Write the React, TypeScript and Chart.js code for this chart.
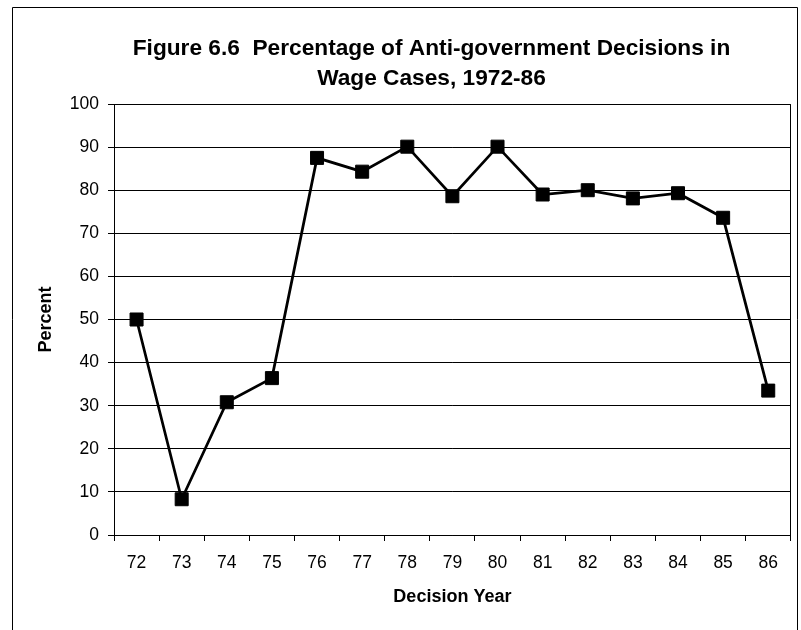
import React, { useEffect, useRef } from "react";
import { Chart, registerables } from "chart.js";

Chart.register(...registerables);

const categories: string[] = ["72", "73", "74", "75", "76", "77", "78", "79", "80", "81", "82", "83", "84", "85", "86"];
const percentValues: number[] = [50, 8.3, 30.8, 36.4, 87.5, 84.3, 90.1, 78.6, 90.1, 79.0, 80.0, 78.1, 79.3, 73.6, 33.5];
const titleLines: string[] = ["Figure 6.6  Percentage of Anti-government Decisions in", "Wage Cases, 1972-86"];
const xAxisTitle = "Decision Year";
const yAxisTitle = "Percent";
const yMin = 0;
const yMax = 100;
const yStep = 10;

const FONT = '"Liberation Sans", Arial, Helvetica, sans-serif';

const W = 801;
const H = 630;

const framePlugin = {
  id: "frameAndTitle",
  afterDraw(chart: any) {
    const ctx = chart.ctx;
    const a = chart.chartArea;
    ctx.save();
    // outer frame
    ctx.strokeStyle = "#000";
    ctx.lineWidth = 1;
    ctx.beginPath();
    ctx.moveTo(12.5, H + 10);
    ctx.lineTo(12.5, 7.5);
    ctx.lineTo(797.5, 7.5);
    ctx.lineTo(797.5, H + 10);
    ctx.stroke();
    // plot area box (top and right)
    ctx.beginPath();
    ctx.moveTo(Math.round(a.left) + 0.5, Math.round(a.top) + 0.5);
    ctx.lineTo(Math.round(a.right) - 0.5, Math.round(a.top) + 0.5);
    ctx.lineTo(Math.round(a.right) - 0.5, Math.round(a.bottom) + 0.5);
    ctx.stroke();
    // title
    ctx.fillStyle = "#000";
    ctx.font = "bold 22.7px " + FONT;
    ctx.textAlign = "center";
    ctx.textBaseline = "alphabetic";
    ctx.fillText(titleLines[0], 431.5, 55);
    ctx.fillText(titleLines[1], 431.5, 85);
    ctx.restore();
  },
};

export default function App() {
  const ref = useRef<HTMLCanvasElement | null>(null);

  useEffect(() => {
    if (!ref.current) return;
    Chart.defaults.font.family = FONT;
    Chart.defaults.color = "#000";
    const chart = new Chart(ref.current, {
      type: "line",
      data: {
        labels: categories,
        datasets: [
          {
            data: percentValues,
            borderColor: "#000",
            backgroundColor: "#000",
            borderWidth: 2.75,
            pointStyle: "rect",
            pointRadius: 9.2,
            pointBorderWidth: 1,
            pointBackgroundColor: "#000",
            pointBorderColor: "#000",
            tension: 0,
            fill: false,
          },
        ],
      },
      options: {
        responsive: false,
        animation: false,
        layout: { padding: { top: 104, right: 3, left: 0, bottom: 0 } },
        plugins: {
          legend: { display: false },
          title: { display: false },
          tooltip: { enabled: false },
        },
        scales: {
          x: {
            type: "category",
            offset: true,
            grid: {
              display: true,
              offset: true,
              drawOnChartArea: false,
              drawTicks: true,
              tickLength: 6,
              color: "#000",
              lineWidth: 1,
            },
            border: { display: true, color: "#000", width: 1 },
            ticks: {
              font: { size: 17.5 },
              color: "#000",
              padding: 12,
              maxRotation: 0,
              autoSkip: false,
            },
            title: {
              display: true,
              text: xAxisTitle,
              font: { size: 18, weight: "bold" },
              color: "#000",
              padding: { top: 0, bottom: 22 },
            },
            afterFit: (scale: any) => {
              scale.height = H - 535;
            },
          },
          y: {
            min: yMin,
            max: yMax,
            grid: {
              color: "#000",
              lineWidth: 1,
              tickLength: 6,
              drawTicks: true,
            },
            border: { display: true, color: "#000", width: 1 },
            ticks: {
              stepSize: yStep,
              font: { size: 17.5 },
              color: "#000",
              padding: 9,
            },
            title: {
              display: true,
              text: yAxisTitle,
              font: { size: 18, weight: "bold" },
              color: "#000",
              padding: { top: 35, bottom: 0 },
            },
            afterFit: (scale: any) => {
              scale.width = 114;
            },
          },
        },
      },
      plugins: [framePlugin],
    });
    return () => chart.destroy();
  }, []);

  return (
    <div style={{ position: "absolute", left: 0, top: 0, width: W, height: H, overflow: "hidden", background: "#fff" }}>
      <canvas ref={ref} width={W} height={H} style={{ display: "block" }} />
    </div>
  );
}
